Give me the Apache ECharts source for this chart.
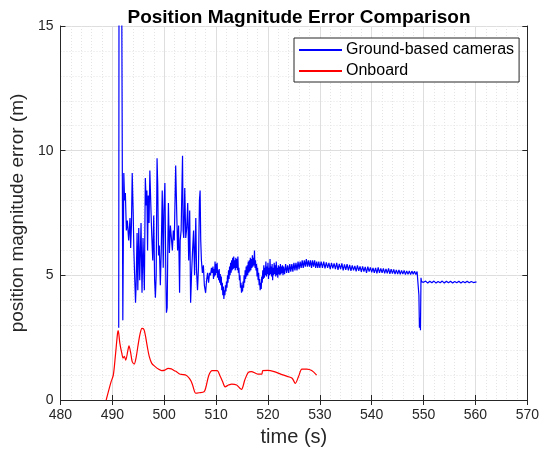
<!DOCTYPE html>
<html>
<head>
<meta charset="utf-8">
<script src="https://cdn.jsdelivr.net/npm/echarts@6/dist/echarts.min.js"></script>
<style>html,body{margin:0;padding:0;background:#fff}#c{width:542px;height:452px}</style>
</head>
<body>
<div id="c"></div>
<script>
// Ground-based cameras: [time (s), error (m)]
var camData = [
[491.23,2.9],[491.30,20],[491.75,20],[492.02,3.2],[492.21,9.1],[492.36,8.0],[492.51,8.3],[492.70,6.8],[492.89,7.2],[493.15,6.4],[493.40,7.3],[493.53,6.1],[493.68,7.0],[493.83,9.1],[494.02,7.5],[494.15,6.0],[494.28,5.1],[494.47,3.9],[494.58,4.6],[494.77,6.7],[494.91,4.4],[495.09,6.9],[495.28,4.8],[495.53,7.1],[495.72,4.3],[495.91,6.5],[496.17,4.4],[496.36,8.9],[496.55,7.8],[496.66,8.4],[496.79,6.0],[496.92,8.2],[497.08,7.1],[497.23,9.2],[497.42,7.8],[497.60,6.6],[497.79,5.6],[497.98,7.4],[498.15,4.8],[498.30,4.1],[498.45,5.0],[498.62,9.7],[498.75,8.6],[498.90,5.8],[499.06,6.2],[499.25,4.6],[499.43,6.0],[499.62,8.4],[499.81,5.3],[499.94,7.6],[500.13,8.7],[500.32,4.8],[500.43,3.5],[500.57,3.7],[500.70,6.2],[500.81,7.9],[501.00,5.9],[501.19,7.0],[501.38,6.5],[501.57,6.0],[501.75,6.8],[501.94,6.4],[502.21,9.4],[502.40,7.6],[502.58,6.0],[502.77,7.0],[502.96,4.3],[503.08,6.4],[503.26,6.8],[503.53,9.8],[503.64,6.8],[503.77,6.5],[503.96,8.5],[504.15,6.5],[504.34,6.9],[504.53,7.9],[504.72,5.6],[504.91,7.6],[505.09,3.9],[505.28,5.1],[505.47,6.0],[505.66,6.8],[505.85,5.0],[506.09,7.3],[506.23,5.2],[506.42,4.4],[506.60,5.3],[506.79,8.0],[506.92,8.4],[507.04,6.4],[507.17,5.6],[507.36,5.1],[507.55,5.4],[507.74,4.6],[507.98,4.3],[508.17,4.8],[508.36,5.1],[508.55,4.7],[508.74,5.1],[508.92,5.0],[509.11,5.3],[509.25,5.1],
[509.4,5.35],[509.5,4.85],[509.6,5.25],[509.7,4.95],[509.8,5.55],[509.9,5.0],[510.0,5.45],[510.1,5.1],[510.2,5.5],[510.3,4.9],[510.4,5.2],[510.5,4.8],[510.6,5.25],[510.7,4.7],[510.8,5.05],[510.9,4.6],[511.0,4.95],[511.1,4.4],[511.2,4.7],[511.3,4.2],[511.4,4.55],[511.5,4.05],[511.6,4.4],[511.7,4.2],[511.8,4.6],[511.9,4.35],[512.0,4.75],[512.1,4.5],[512.2,5.0],[512.3,4.7],[512.4,5.2],[512.5,4.85],[512.6,5.35],[512.7,5.0],[512.8,5.5],[512.9,5.1],[513.0,5.6],[513.1,5.2],[513.2,5.7],[513.3,5.25],[513.4,5.75],[513.5,5.3],[513.6,5.6],[513.7,5.2],[513.8,5.7],[513.9,5.3],[514.0,5.65],[514.1,5.2],[514.2,5.75],[514.3,5.1],[514.4,5.3],[514.5,4.8],[514.6,5.0],[514.7,4.5],[514.8,4.7],[514.9,4.3],[515.0,4.6],[515.1,4.35],[515.2,4.75],[515.3,4.5],[515.4,5.0],[515.5,4.7],[515.6,5.2],[515.7,4.85],[515.8,5.35],[515.9,4.95],[516.0,5.4],[516.1,5.0],[516.2,5.55],[516.3,5.1],[516.4,5.6],[516.5,5.15],[516.6,5.7],[516.7,5.2],[516.8,5.65],[516.9,5.3],[517.0,5.8],[517.1,5.35],[517.2,5.7],[517.3,5.4],[517.4,6.0],[517.5,5.3],[517.6,5.6],[517.7,5.2],[517.8,5.45],[517.9,4.95],[518.0,5.3],[518.1,4.8],[518.2,5.1],[518.3,4.6],[518.4,4.85],[518.5,4.4],[518.6,4.7],[518.7,4.45],[518.8,4.95],[518.9,4.7],[519.0,5.2],[519.1,4.85],[519.2,5.4],[519.3,4.9],[519.4,5.3],[519.5,5.0],[519.6,5.55],[519.7,4.95],[519.8,5.35],[519.9,5.05],[520.0,5.5],[520.1,4.85],[520.2,5.3],[520.3,5.0],[520.4,5.65],[520.5,5.05],[520.6,5.35],[520.7,4.95],[520.8,5.45],[520.9,4.8],[521.0,5.3],[521.1,5.0],[521.2,5.5],[521.3,5.05],[521.4,5.4],[521.5,4.95],[521.6,5.55],[521.7,5.0],[521.8,5.3],[521.9,4.9],[522.0,5.4],[522.1,5.05],[522.2,5.35],[522.3,5.0],[522.4,5.45],[522.5,5.05],[522.6,5.35],[522.7,5.1],[522.8,5.4],[522.9,5.0],[523.0,5.35],[523.2,5.05],[523.4,5.45],[523.6,5.1],[523.8,5.4],[524.0,5.1],[524.2,5.45],[524.4,5.15],[524.6,5.45],[524.8,5.15],[525.0,5.5],[525.2,5.2],[525.4,5.5],[525.6,5.2],[525.8,5.55],[526.0,5.25],[526.2,5.55],[526.4,5.3],[526.6,5.6],[526.8,5.3],[527.0,5.6],[527.2,5.35],[527.4,5.65],[527.6,5.35],[527.8,5.6],[528.0,5.35],[528.2,5.6],[528.4,5.3],[528.6,5.6],[528.8,5.35],[529.0,5.6],[529.2,5.3],[529.4,5.55],[529.6,5.3],[529.8,5.55],
[530.0,5.3],[530.25,5.55],[530.5,5.3],[530.75,5.55],[531.0,5.28],[531.25,5.52],[531.5,5.3],[531.75,5.5],[532.0,5.25],[532.25,5.5],[532.5,5.28],[532.75,5.48],[533.0,5.25],[533.25,5.5],[533.5,5.22],[533.75,5.46],[534.0,5.25],[534.25,5.48],[534.5,5.2],[534.75,5.44],[535.0,5.22],[535.25,5.45],[535.5,5.2],[535.75,5.42],[536.0,5.18],[536.25,5.4],[536.5,5.2],[536.75,5.38],[537.0,5.16],[537.25,5.4],[537.5,5.18],[537.75,5.36],[538.0,5.14],[538.25,5.36],[538.5,5.15],[538.75,5.34],[539.0,5.1],[539.25,5.35],[539.5,5.15],[539.75,5.32],[540.0,5.12],[540.25,5.3],[540.5,5.1],[540.75,5.3],[541.0,5.08],[541.25,5.32],[541.5,5.1],[541.75,5.28],[542.0,5.1],[542.25,5.28],[542.5,5.08],[542.75,5.26],[543.0,5.08],[543.25,5.28],[543.5,5.06],[543.75,5.25],[544.0,5.07],[544.25,5.24],[544.5,5.05],[544.75,5.22],[545.0,5.05],[545.25,5.22],[545.5,5.04],[545.75,5.2],[546.0,5.05],[546.25,5.2],[546.5,5.03],[546.75,5.18],[547.0,5.04],[547.25,5.18],[547.5,5.03],[547.75,5.17],[548.0,5.04],[548.25,5.16],[548.5,5.03],[548.75,5.15],[549.0,5.08],
[549.1,4.2],[549.2,2.9],[549.3,3.3],[549.4,2.8],[549.5,4.9],[549.6,4.75],[550.0,4.72],[550.4,4.77],[550.8,4.69],[551.2,4.76],[551.6,4.70],[552.0,4.77],[552.4,4.69],[552.8,4.75],[553.2,4.70],[553.6,4.77],[554.0,4.69],[554.4,4.76],[554.8,4.70],[555.2,4.76],[555.6,4.69],[556.0,4.75],[556.4,4.70],[556.8,4.76],[557.2,4.69],[557.6,4.75],[558.0,4.70],[558.4,4.76],[558.8,4.70],[559.2,4.75],[559.6,4.71],[560.2,4.74]
];
// Onboard: [time (s), error (m)]
var onboardData = [
[488.81,0],[489.75,0.73],[490.19,1.0],[490.57,1.74],[491.0,2.67],[491.13,2.78],[491.45,2.27],[491.83,1.87],[492.08,1.68],[492.32,1.75],[492.58,1.6],[492.96,1.95],[493.21,2.17],[493.53,1.9],[493.83,1.54],[494.21,1.44],[494.58,1.7],[494.96,2.2],[495.34,2.65],[495.72,2.87],[496.09,2.83],[496.36,2.6],[496.74,2.14],[497.11,1.75],[497.60,1.47],[498.25,1.34],[498.87,1.24],[499.49,1.18],[500.13,1.2],[500.75,1.27],[501.38,1.25],[501.89,1.18],[502.32,1.14],[502.96,1.04],[503.58,1.02],[504.21,0.99],[504.85,0.87],[505.19,0.75],[505.47,0.6],[506.09,0.27],[506.73,0.29],[507.68,0.33],[507.98,0.47],[508.62,1.0],[509.25,1.18],[510.19,1.18],[510.81,0.94],[511.23,0.75],[511.75,0.53],[512.40,0.6],[513.02,0.64],[513.96,0.6],[514.58,0.47],[514.91,0.43],[515.53,0.8],[516.17,1.1],[516.79,1.14],[518.06,1.04],[518.81,1.04],[519.0,1.18],[519.94,1.19],[521.19,1.14],[522.45,1.04],[523.72,0.95],[524.66,0.87],[525.28,0.67],[525.91,0.95],[526.55,1.24],[527.49,1.24],[528.43,1.18],[529.38,1.0]
];
var seriesNames = ['Ground-based cameras', 'Onboard'];
var titleText = 'Position Magnitude Error Comparison';
var xName = 'time (s)';
var yName = 'position magnitude error (m)';

var FONT = "'Liberation Sans', Arial, Helvetica, sans-serif";
var AX = '#262626';
var chart = echarts.init(document.getElementById('c'), null, {renderer: 'canvas'});
var commonX = {type: 'value', min: 480, max: 570, interval: 10};
var commonY = {type: 'value', min: 0, max: 15, interval: 5};
chart.setOption({
  animation: false,
  backgroundColor: '#fff',
  title: {text: titleText, left: 294, textAlign: 'center', top: 3,
    textStyle: {fontFamily: FONT, fontSize: 19, fontWeight: 'bold', color: '#000'}},
  grid: {left: 55, right: 9, top: 26, bottom: 52, containLabel: false},
  legend: {
    data: seriesNames, orient: 'vertical', left: 294, top: 38,
    padding: [3, 5, 2, 5], itemGap: 3, itemWidth: 43, itemHeight: 2, icon: 'rect',
    borderColor: AX, borderWidth: 1, backgroundColor: '#fff',
    textStyle: {fontFamily: FONT, fontSize: 16, color: '#000', lineHeight: 18, padding: [0, 0, 0, -1]}
  },
  xAxis: [
    Object.assign({}, commonX, {
      position: 'bottom', name: xName, nameLocation: 'middle', nameGap: 27,
      nameTextStyle: {fontFamily: FONT, fontSize: 20, color: AX},
      axisLine: {show: true, lineStyle: {color: AX, width: 1}},
      axisTick: {show: true, inside: true, length: 5, lineStyle: {color: AX}},
      axisLabel: {fontFamily: FONT, fontSize: 14, color: AX, margin: 8},
      splitLine: {show: true, lineStyle: {color: '#dedede', width: 1}},
      minorTick: {show: false, splitNumber: 5},
      minorSplitLine: {show: true, lineStyle: {color: '#e4e4e4', width: 1, type: [1, 2]}}
    }),
    Object.assign({}, commonX, {
      position: 'top',
      axisLine: {show: true, lineStyle: {color: AX, width: 1}},
      axisTick: {show: true, inside: true, length: 5, lineStyle: {color: AX}},
      axisLabel: {show: false}, splitLine: {show: false}
    })
  ],
  yAxis: [
    Object.assign({}, commonY, {
      position: 'left', name: yName, nameLocation: 'middle', nameGap: 25,
      nameTextStyle: {fontFamily: FONT, fontSize: 19, color: AX},
      axisLine: {show: true, lineStyle: {color: AX, width: 1}},
      axisTick: {show: true, inside: true, length: 5, lineStyle: {color: AX}},
      axisLabel: {fontFamily: FONT, fontSize: 14, color: AX, margin: 7},
      splitLine: {show: true, lineStyle: {color: '#dedede', width: 1}},
      minorTick: {show: false, splitNumber: 5},
      minorSplitLine: {show: true, lineStyle: {color: '#e4e4e4', width: 1, type: [1, 2]}}
    }),
    Object.assign({}, commonY, {
      position: 'right',
      axisLine: {show: true, lineStyle: {color: AX, width: 1}},
      axisTick: {show: true, inside: true, length: 5, lineStyle: {color: AX}},
      axisLabel: {show: false}, splitLine: {show: false}
    })
  ],
  series: [
    {name: seriesNames[0], type: 'line', data: camData, showSymbol: false, symbol: 'none',
      clip: true, lineStyle: {color: '#0000ff', width: 1.2}, itemStyle: {color: '#0000ff'}, z: 3},
    {name: seriesNames[1], type: 'line', data: onboardData, showSymbol: false, symbol: 'none',
      smooth: 0.3, clip: true, lineStyle: {color: '#ff0000', width: 1.2}, itemStyle: {color: '#ff0000'}, z: 4}
  ]
});
</script>
</body>
</html>
